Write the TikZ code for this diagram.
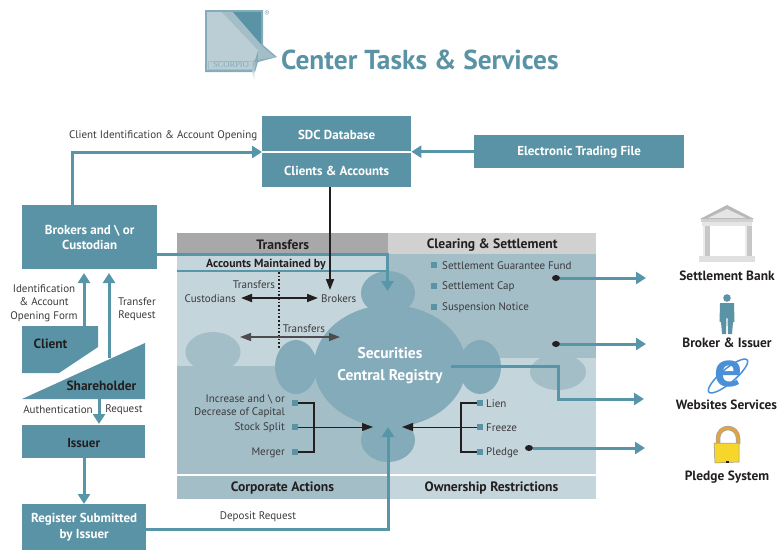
\documentclass[tikz,border=0pt]{standalone}
\usepackage{fontspec}
\setmainfont{PT Sans}
\newfontfamily\logofont{Liberation Serif}
\usetikzlibrary{arrows.meta,shapes.geometric}
\definecolor{teal}{HTML}{5A93A5}
\definecolor{tealline}{HTML}{5796A8}
\definecolor{pale}{HTML}{C5D5DC}
\definecolor{mid}{HTML}{A4BEC8}
\definecolor{blob}{HTML}{83ABB9}
\definecolor{ink}{HTML}{231F20}
\definecolor{txt}{HTML}{3A3A3C}
\definecolor{ieblue}{HTML}{4A90D9}
\definecolor{lockor}{HTML}{E3A33E}
\definecolor{lockye}{HTML}{F6D62A}
\tikzset{
  box/.style={fill=teal,draw=none,inner sep=0pt,align=center,text=white,font=\fontsize{13}{15}\selectfont\bfseries,execute at begin node={\rule{0pt}{11pt}}},
  head/.style={draw=none,inner sep=0pt,text=ink,font=\fontsize{13.6}{14}\selectfont\bfseries,execute at begin node={\rule{0pt}{11.5pt}}},
  lab/.style={inner sep=0pt,yshift=-1pt,text=txt,align=center,font=\fontsize{11}{13.5}\selectfont},
  lbl/.style={inner sep=0pt,yshift=-1pt,text=ink,font=\fontsize{13.4}{14}\selectfont\bfseries},
  conn/.style={draw=tealline,line width=3pt,-{Triangle[length=10pt,width=12pt]}},
  bk/.style={draw=ink,line width=1.7pt,-{Triangle[length=11pt,width=8pt]}},
  bkk/.style={draw=ink,line width=1.7pt,{Triangle[length=11pt,width=8pt]}-{Triangle[length=11pt,width=8pt]}},
  sq/.style={fill=teal,draw=none,minimum size=6pt,inner sep=0pt},
  dot/.style={fill=ink,draw=none,ellipse,minimum width=8pt,minimum height=6pt,inner sep=0pt},
}
\begin{document}
\begin{tikzpicture}[x=1pt,y=-1pt]
\useasboundingbox (0,0) rectangle (777,550);
% panel
\fill[pale] (177,254) rectangle (388,366);
\fill[mid] (388,254) rectangle (596,358);
\fill[mid] (177,366) rectangle (388,474);
\fill[pale] (388,358) rectangle (596,474);
\fill[mid] (213,352) ellipse [x radius=27.5,y radius=20];
\fill[mid] (558,372) ellipse [x radius=28,y radius=18];
\fill[pale] (177,254) rectangle (388,271);
\fill[mid] (177,475.5) rectangle (388,499);
\fill[pale] (388,475.5) rectangle (596,499);
\node[head,fill=black!34,minimum width=211pt,minimum height=21pt,anchor=north west] (tr) at (177,233) {Transfers};
\node[head,fill=black!18,minimum width=208pt,minimum height=21pt,anchor=north west] (cs) at (388,233) {Clearing \& Settlement};
\node[head,anchor=center] (ca) at (282.5,487) {Corporate Actions};
\node[head,anchor=center] (or) at (491.5,487) {Ownership Restrictions};
% blobs
\fill[blob] (388,293) ellipse [x radius=27,y radius=22];
\fill[blob] (388,440) ellipse [x radius=27,y radius=22];
\fill[blob] (296,367) ellipse [x radius=21,y radius=27];
\fill[blob] (480,367) ellipse [x radius=21,y radius=27];
\node[fill=blob,ellipse,draw=none,inner sep=0pt,minimum width=152pt,minimum height=122pt,align=center,text=white,font=\fontsize{15.5}{22}\selectfont\bfseries] (reg) at (390,366) {\raisebox{-2.5pt}{Securities}\\\raisebox{-2.5pt}{Central Registry}};
% top boxes
\node[box,minimum width=149pt,minimum height=36pt,anchor=north west] (sdc) at (262,116) {SDC Database};
\node[box,minimum width=149pt,minimum height=35pt,anchor=north west] (acc) at (262,152) {Clients \& Accounts};
\draw[white,line width=1.2pt] (262,152) -- (411,152);
\node[box,minimum width=210pt,minimum height=33pt,anchor=north west] (etf) at (474,135) {Electronic Trading File};
% left boxes
\node[box,minimum width=135pt,minimum height=64pt,anchor=north west] (bro) at (22,205) {Brokers and \textbackslash{} or\\Custodian};
\fill[teal] (22,326) -- (98,326) -- (98,347) -- (59,373) -- (22,373) -- cycle;
\fill[teal] (22,399) -- (145,343) -- (145,399) -- cycle;
\node[lbl] (cli) at (50.5,343) {Client};
\node[lbl] (sha) at (101.5,385) {Shareholder};
\node[box,text=ink,minimum width=123pt,minimum height=33pt,anchor=north west] (iss) at (22,425) {Issuer};
\node[box,minimum width=124pt,minimum height=46pt,anchor=north west] (rsb) at (22,504) {\raisebox{-1pt}{Register Submitted}\\[1pt]\raisebox{-1pt}{by Issuer}};
% named anchors
\coordinate (aTop) at (72,205);
\coordinate (aIn) at (262,152);
\coordinate (cTop) at (84,326);
\coordinate (bBot1) at (84,273);
\coordinate (sTop) at (109,358);
\coordinate (bBot2) at (109,273);
\coordinate (sBot) at (99,399);
\coordinate (iTop) at (99,424);
\coordinate (iBot) at (84,458);
\coordinate (rTop) at (84,504);
\coordinate (bR) at (157,254);
\coordinate (rR) at (146,529);
% connectors
\draw[conn] (aTop) -- (72,152) -- (aIn);
\draw[conn] (etf.west) -- (acc.north east |- etf.west);
\draw[conn] (cTop) -- (bBot1);
\draw[conn] (sTop) -- (bBot2);
\draw[conn] (sBot) -- (iTop);
\draw[conn] (iBot) -- (rTop);
\draw[conn] (bR) -- (387.5,254) -- (387.5,291);
\draw[conn] (rR) -- (388,529) -- (388,427);
\draw[tealline,line width=1.6pt] (177,271) -- (388,271);
\node[head,font=\fontsize{11.8}{12}\selectfont\bfseries,execute at begin node={\rule{0pt}{10pt}}] (amb) at (266,263) {Accounts Maintained by};
\draw[bk] (330,187) -- (330,290);
\draw[ink,line width=1.7pt,dotted] (279,272) -- (279,349);
% transfer labels
\node[lab] (t1) at (254,284) {Transfers};
\node[lab,anchor=east] (cus) at (236,298) {Custodians};
\node[lab,anchor=west] (brk) at (321,298) {Brokers};
\node[lab] (t2) at (304,328) {Transfers};
\coordinate (cA) at (241,298); \coordinate (cB) at (318,298);
\draw[bkk] (cA) -- (cB);
\coordinate (tA) at (240,337); \coordinate (tB) at (340,337);
\draw[bkk,draw=ink!80,line width=1.3pt] (tA) -- (tB);
% clearing list
\node[sq] (s1) at (434,265) {};
\node[sq] (s2) at (434,286) {};
\node[sq] (s3) at (434,307) {};
\node[lab,anchor=west] at (442,265) {Settlement Guarantee Fund};
\node[lab,anchor=west] at (442,286) {Settlement Cap};
\node[lab,anchor=west] at (442,307) {Suspension Notice};
\node[dot] (d1) at (556,278) {};
\node[dot] (d2) at (556,344) {};
\coordinate (e1) at (646,278); \coordinate (e2) at (646,344); \coordinate (e3) at (644,399); \coordinate (e4) at (645,448);
\draw[conn] (d1) -- (e1);
\draw[conn] (d2) -- (e2);
\draw[conn] (451,366) -- (558,366) -- (558,399) -- (e3);
% corporate
\node[sq] (c1) at (295,403) {};
\node[sq] (c2) at (295,427) {};
\node[sq] (c3) at (295,452) {};
\node[lab,align=right,anchor=east] at (285,405) {Increase and \textbackslash{} or\\Decrease of Capital};
\node[lab,anchor=east] at (285,427) {Stock Split};
\node[lab,anchor=east] at (285,452) {Merger};
\draw[ink,line width=1.6pt] (c1) -- (314,403) -- (314,452) -- (c3);
\draw[ink,line width=1pt,-{Triangle[length=11pt,width=8pt]}] (c2) -- (373,427);
% ownership
\node[sq] (o1) at (480,403) {};
\node[sq] (o2) at (480,427) {};
\node[sq] (o3) at (480,452) {};
\node[lab,anchor=west] at (486,403) {Lien};
\node[lab,anchor=west] at (486,427) {Freeze};
\node[lab,anchor=west] at (486,452) {Pledge};
\draw[ink,line width=1.6pt] (o1) -- (461,403) -- (461,452) -- (o3);
\draw[ink,line width=1pt,-{Triangle[length=11pt,width=8pt]}] (o2) -- (402,427);
\node[dot] (d3) at (529,448) {};
\draw[conn] (d3) -- (e4);
% connector labels
\node[lab,anchor=west] at (69,135) {Client Identification \& Account Opening};
\node[lab] at (44,302) {Identification\\\& Account\\Opening Form};
\node[lab] at (137,308) {Transfer\\Request};
\node[lab] at (58,409) {Authentication};
\node[lab] at (124,409) {Request};
\node[lab] at (258,516) {Deposit Request};
% logo
\fill[blob] (205,10) -- (263,10) -- (263,45) -- (277,57) -- (258,62) -- (255,72) -- (205,72) -- cycle;
\fill[white!25!mid] (207,12) -- (222,12) -- (258,50) -- (255,60) -- (253,70) -- (207,70) -- cycle;
\fill[mid] (222,12) -- (233,12) -- (263,47) -- (275,57) -- (258,60) -- (258,50) -- cycle;
\fill[teal] (233,12) -- (261,12) -- (261,44) -- cycle;
\shade[top color=blob,bottom color=white] (258,61) .. controls (254,66) and (254,74) .. (255,82) .. controls (252,74) and (251,66) .. (254,60) -- cycle;
\draw[mid,line width=.5pt] (208,61) rectangle (254,69);
\node[font=\logofont\fontsize{8.5}{9}\selectfont,text=blob,inner sep=0pt] (slogo) at (231,65) {SCORPIO};
\node[font=\fontsize{8}{8}\selectfont,text=blob,inner sep=0pt] (rr) at (267,14) {®};
\node[font=\fontsize{27.4}{28}\selectfont\bfseries,text=teal,inner sep=0pt,anchor=west] (title) at (281,60) {Center Tasks \& Services};
% right labels
\node[lbl,anchor=center] (bank) at (727,275) {Settlement Bank};
\node[lbl,anchor=center] (bri) at (727,342) {Broker \& Issuer};
\node[lbl,anchor=center] (web) at (726.5,404) {Websites Services};
\node[lbl,anchor=center] (ple) at (727,476) {Pledge System};
% bank icon
\fill[black!28] (700,219) -- (727,205) -- (754,219) -- cycle;
\fill[black!10] (708,218) -- (727,209) -- (746,218) -- cycle;
\fill[black!18] (701,219) rectangle (753,222);
\fill[black!10] (702,222) rectangle (752,226);
\fill[black!22] (703,226) rectangle (710,256);
\fill[black!22] (745,226) rectangle (752,256);
\fill[black!8] (703,226) rectangle (705,256);
\fill[black!8] (745,226) rectangle (747,256);
\fill[black!12] (699,256) rectangle (755,262);
% person
\fill[teal] (727,298) circle (3.8);
\fill[teal] (720,303) -- (734,303) -- (734.5,322) -- (733,322) -- (732,334) -- (728,334) -- (727.5,318) -- (726.5,318) -- (726,334) -- (722,334) -- (721,322) -- (719.5,322) -- cycle;
% IE
\draw[ieblue,line width=1.5pt,rotate around={40:(728,376)}] (728,376) ellipse [x radius=25,y radius=7];
\node[font=\fontsize{50}{50}\selectfont\bfseries,text=ieblue,inner sep=0pt,xscale=1.1] (ie) at (728,374) {e};
% lock
\draw[black!35,line width=4.5pt] (718,444) -- (718,438) arc[start angle=180,delta angle=180,radius=10] -- (738,444);
\draw[lockor,line width=3pt] (718,444) -- (718,438) arc[start angle=180,delta angle=180,radius=10] -- (738,444);
\fill[lockye,draw=black!45,line width=.5pt] (714,443) -- (739,443) -- (739,462) -- (715,463) -- cycle;
\fill[ink] (725.5,461) rectangle (729,463);
\end{tikzpicture}
\end{document}
